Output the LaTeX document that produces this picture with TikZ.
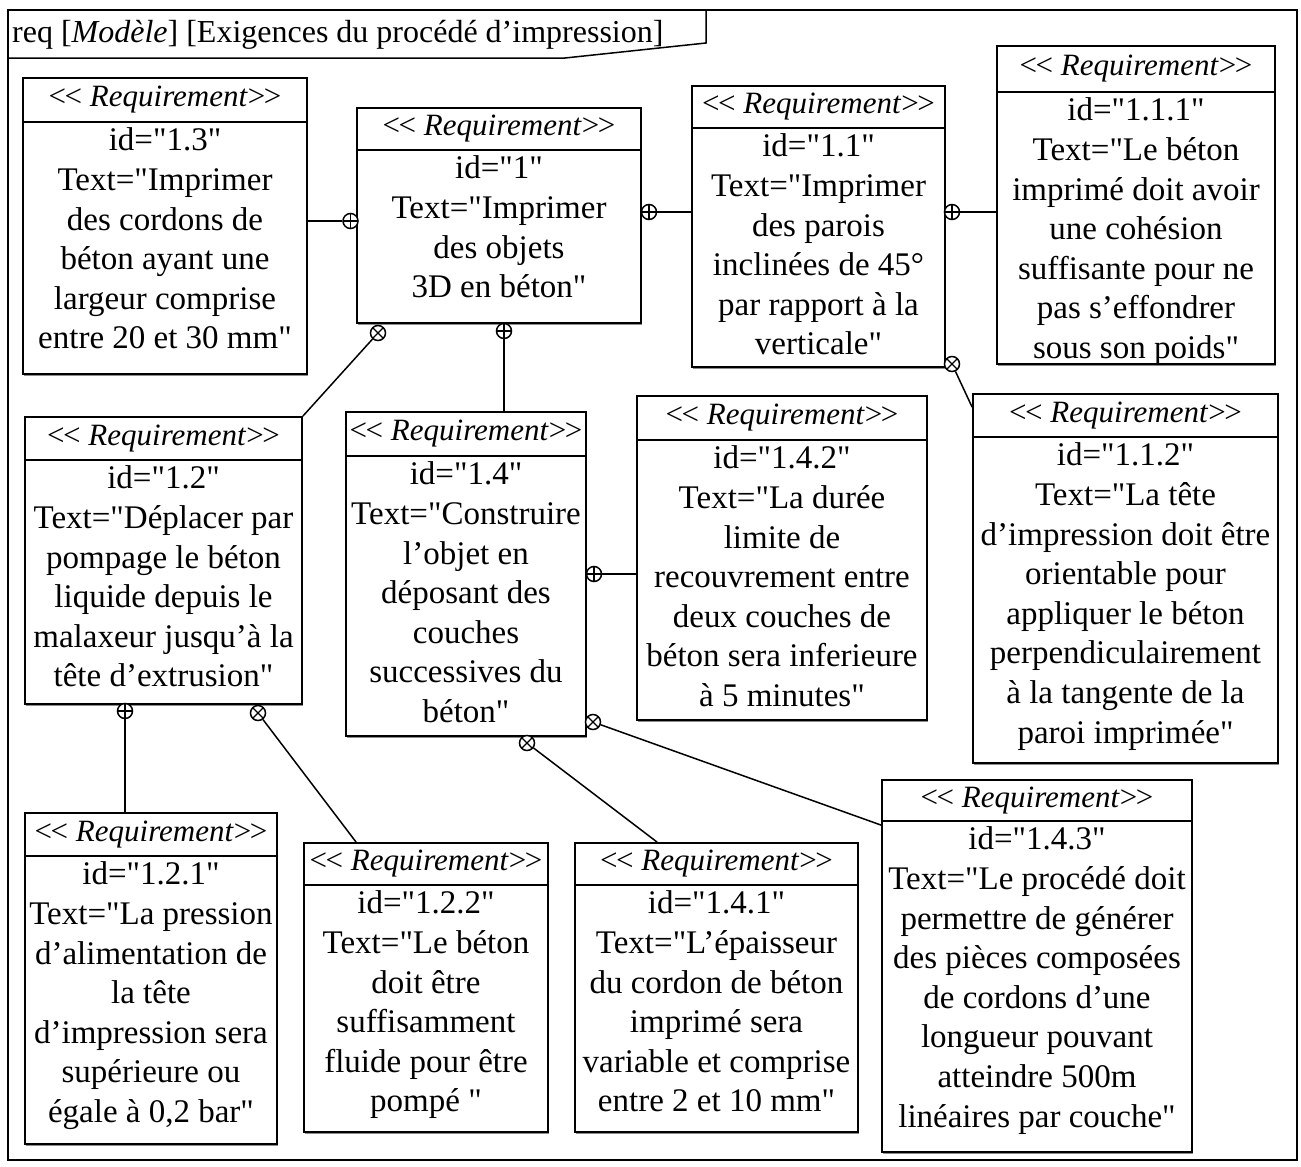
\documentclass[tikz,border=0pt]{standalone}
\usepackage{fontspec}
\setmainfont{Liberation Serif}[Ligatures=TeXOff]
\usetikzlibrary{shadows}

\newcommand{\stlabel}{<\kern-1.5pt< \textit{Requirement}>\kern-1.5pt>}

\tikzset{
  reqbox/.style={draw, line width=1.8pt, fill=white, inner sep=0pt,
    drop shadow={shadow xshift=1pt, shadow yshift=-1.5pt, fill=black!45, opacity=1}},
  hdrline/.style={line width=1.8pt},
  stereo/.style={inner sep=0pt, font=\fontsize{31}{37}\selectfont},
  body/.style={anchor=north, inner sep=0pt, align=center, font=\fontsize{33}{39.6}\selectfont},
  link/.style={line width=1.5pt},
  plusmark/.style={circle, draw, line width=1.5pt, minimum size=15pt, inner sep=0pt, fill=white,
    path picture={\draw[line width=1.2pt] (path picture bounding box.north) -- (path picture bounding box.south)
      (path picture bounding box.west) -- (path picture bounding box.east);}},
  crossmark/.style={circle, draw, line width=1.5pt, minimum size=15pt, inner sep=0pt, fill=white,
    path picture={\draw[line width=1.2pt] (path picture bounding box.north west) -- (path picture bounding box.south east)
      (path picture bounding box.north east) -- (path picture bounding box.south west);}}
}

\begin{document}
\begin{tikzpicture}[x=1pt,y=-1pt]
\useasboundingbox (0,0) rectangle (1301,1167);

% frame
\draw[line width=1.5pt] (8,10) rectangle (1297,1160);
\draw[line width=1.5pt] (8,58) -- (565,58) -- (706,43) -- (706,10);
\node[anchor=west, inner sep=0pt, font=\fontsize{32}{38}\selectfont] (title) at (12,35) {req [\textit{Modèle}] [Exigences du procédé d’impression]};

% requirement 1.3
\node[reqbox, minimum width=284, minimum height=296] (r13) at (165,226) {};
\draw[hdrline] (r13.west |- 0,122) -- (r13.east |- 0,122);
\node[stereo] (s13) at (165,100) {\stlabel};
\node[body] (t13) at (165,123) {\strut id="1.3"\\Text="Imprimer\\des cordons de\\béton ayant une\\largeur comprise\\entre 20 et 30 mm"};

% requirement 1
\node[reqbox, minimum width=284, minimum height=215] (r1) at (499,215.5) {};
\draw[hdrline] (r1.west |- 0,150) -- (r1.east |- 0,150);
\node[stereo] (s1) at (499,129) {\stlabel};
\node[body] (t1) at (499,151) {\strut id="1"\\Text="Imprimer\\des objets\\3D en béton"};

% requirement 1.1
\node[reqbox, minimum width=253, minimum height=281] (r11) at (818.5,226.5) {};
\draw[hdrline] (r11.west |- 0,128) -- (r11.east |- 0,128);
\node[stereo] (s11) at (818.5,107) {\stlabel};
\node[body] (t11) at (818.5,129) {\strut id="1.1"\\Text="Imprimer\\des parois\\inclinées de 45°\\par rapport à la\\verticale"};

% requirement 1.1.1
\node[reqbox, minimum width=278, minimum height=318] (r111) at (1136,205) {};
\draw[hdrline] (r111.west |- 0,92) -- (r111.east |- 0,92);
\node[stereo] (s111) at (1136,69) {\stlabel};
\node[body] (t111) at (1136,93) {\strut id="1.1.1"\\Text="Le béton\\imprimé doit avoir\\une cohésion\\suffisante pour ne\\pas s’effondrer\\sous son poids"};

% requirement 1.2
\node[reqbox, minimum width=277, minimum height=287] (r12) at (163.5,560.5) {};
\draw[hdrline] (r12.west |- 0,460) -- (r12.east |- 0,460);
\node[stereo] (s12) at (163.5,438.5) {\stlabel};
\node[body] (t12) at (163.5,461) {\strut id="1.2"\\Text="Déplacer par\\pompage le béton\\liquide depuis le\\malaxeur jusqu’à la\\tête d’extrusion"};

% requirement 1.4
\node[reqbox, minimum width=240, minimum height=324] (r14) at (466,574) {};
\draw[hdrline] (r14.west |- 0,456) -- (r14.east |- 0,456);
\node[stereo] (s14) at (466,434) {\stlabel};
\node[body] (t14) at (466,457) {\strut id="1.4"\\Text="Construire\\l’objet en\\déposant des\\couches\\successives du\\béton"};

% requirement 1.4.2
\node[reqbox, minimum width=290, minimum height=324] (r142) at (782,558) {};
\draw[hdrline] (r142.west |- 0,440) -- (r142.east |- 0,440);
\node[stereo] (s142) at (782,418) {\stlabel};
\node[body] (t142) at (782,441) {\strut id="1.4.2"\\Text="La durée\\limite de\\recouvrement entre\\deux couches de\\béton sera inferieure\\à 5 minutes"};

% requirement 1.1.2
\node[reqbox, minimum width=305, minimum height=369] (r112) at (1125.5,578.5) {};
\draw[hdrline] (r112.west |- 0,437) -- (r112.east |- 0,437);
\node[stereo] (s112) at (1125.5,415.5) {\stlabel};
\node[body] (t112) at (1125.5,438) {\strut id="1.1.2"\\Text="La tête\\d’impression doit être\\orientable pour\\appliquer le béton\\perpendiculairement\\à la tangente de la\\paroi imprimée"};

% requirement 1.2.1
\node[reqbox, minimum width=252, minimum height=331] (r121) at (151,978.5) {};
\draw[hdrline] (r121.west |- 0,856) -- (r121.east |- 0,856);
\node[stereo] (s121) at (151,834.5) {\stlabel};
\node[body] (t121) at (151,857) {\strut id="1.2.1"\\Text="La pression\\d’alimentation de\\la tête\\d’impression sera\\supérieure ou\\égale à 0,2 bar"};

% requirement 1.2.2
\node[reqbox, minimum width=244, minimum height=289] (r122) at (426,987.5) {};
\draw[hdrline] (r122.west |- 0,885) -- (r122.east |- 0,885);
\node[stereo] (s122) at (426,864) {\stlabel};
\node[body] (t122) at (426,886) {\strut id="1.2.2"\\Text="Le béton\\doit être\\suffisamment\\fluide pour être\\pompé "};

% requirement 1.4.1
\node[reqbox, minimum width=283, minimum height=289] (r141) at (716.5,987.5) {};
\draw[hdrline] (r141.west |- 0,885) -- (r141.east |- 0,885);
\node[stereo] (s141) at (716.5,864) {\stlabel};
\node[body] (t141) at (716.5,886) {\strut id="1.4.1"\\Text="L’épaisseur\\du cordon de béton\\imprimé sera\\variable et comprise\\entre 2 et 10 mm"};

% requirement 1.4.3
\node[reqbox, minimum width=310, minimum height=372] (r143) at (1037,966) {};
\draw[hdrline] (r143.west |- 0,821) -- (r143.east |- 0,821);
\node[stereo] (s143) at (1037,800.5) {\stlabel};
\node[body] (t143) at (1037,822) {\strut id="1.4.3"\\Text="Le procédé doit\\permettre de générer\\des pièces composées\\de cordons d’une\\longueur pouvant\\atteindre 500m\\linéaires par couche"};

% containment marks
\node[plusmark] (c13) at (350.5,221) {};
\node[plusmark] (c11) at (649,212) {};
\node[plusmark] (c111) at (952,212) {};
\node[crossmark] (c112) at (952,364) {};
\node[crossmark] (c12) at (378,333) {};
\node[plusmark] (c14) at (504,331) {};
\node[plusmark] (c142) at (594,574) {};
\node[plusmark] (c121) at (125,711) {};
\node[crossmark] (c122) at (258,713) {};
\node[crossmark] (c141) at (527,743) {};
\node[crossmark] (c143) at (593,722) {};

% links
\draw[link] (c13) -- (r13.east |- c13);
\draw[link] (c11) -- (r11.west |- c11);
\draw[link] (c111) -- (r111.west |- c111);
\draw[link] (c112) -- ([yshift=-14pt]r112.north west);
\draw[link] (c12) -- (r12.north east);
\draw[link] (c14) -- (c14 |- r14.north);
\draw[link] (c142) -- (r142.west |- c142);
\draw[link] (c121) -- (c121 |- r121.north);
\draw[link] (c122) -- ([xshift=53pt]r122.north west);
\draw[link] (c141) -- ([xshift=83pt]r141.north west);
\draw[link] (c143) -- ([yshift=-46pt]r143.north west);

\end{tikzpicture}
\end{document}
